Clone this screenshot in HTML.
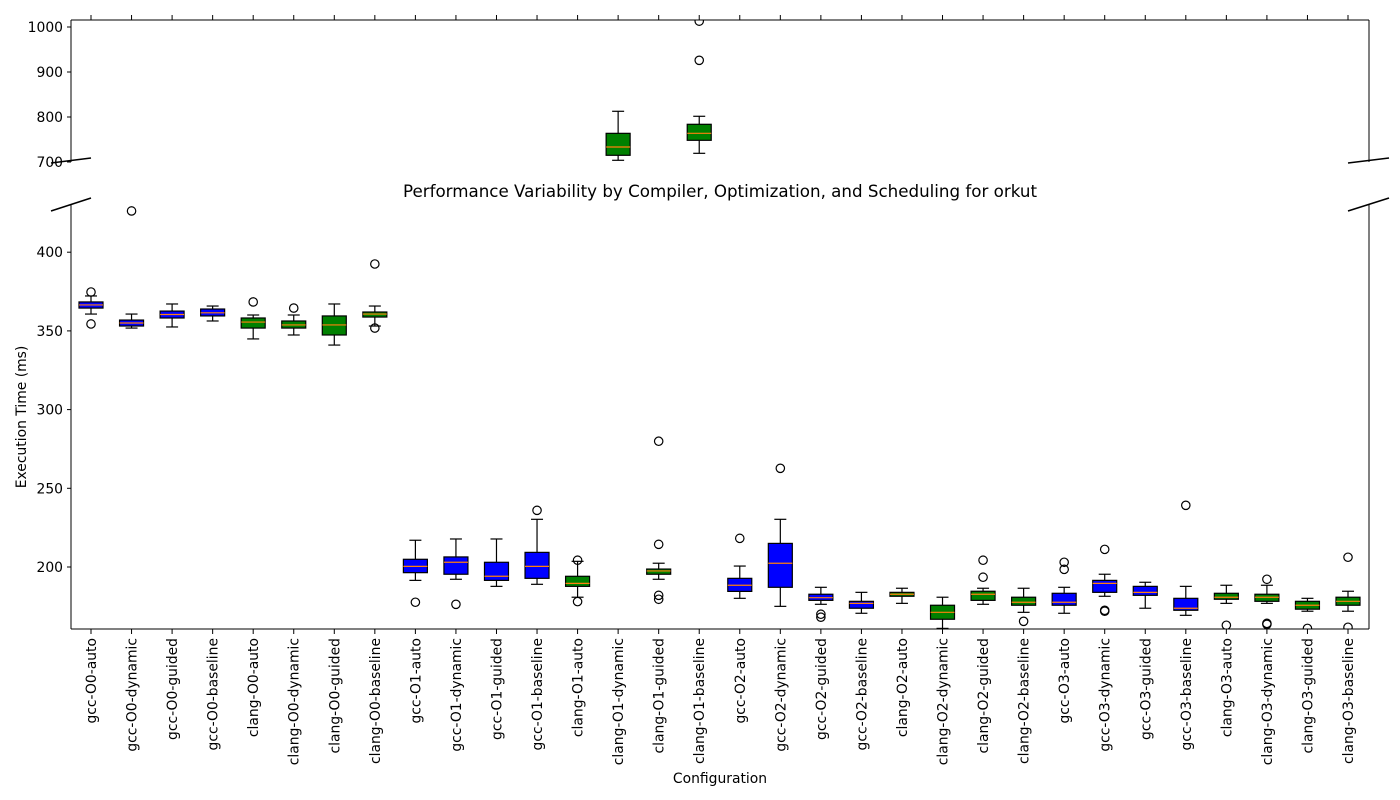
<!DOCTYPE html>
<html><head><meta charset="utf-8">
<style>
html,body{margin:0;padding:0;background:#fff;}
svg{display:block;font-family:"DejaVu Sans","Liberation Sans",sans-serif;}
</style></head>
<body>
<svg id="chart" width="1400" height="800" viewBox="0 0 1400 800" xmlns="http://www.w3.org/2000/svg">
<defs>
<clipPath id="clipTop"><rect x="71" y="20" width="1298" height="142"/></clipPath>
<clipPath id="clipBot"><rect x="71" y="204" width="1298" height="425"/></clipPath>
</defs>
<text x="720" y="197" text-anchor="middle" font-size="16.7">Performance Variability by Compiler, Optimization, and Scheduling for orkut</text>
<text transform="translate(26,417) rotate(-90)" text-anchor="middle" font-size="13.9">Execution Time (ms)</text>
<text x="720" y="783" text-anchor="middle" font-size="13.9">Configuration</text>
<g id="gTop"></g>
<g id="gBot"></g>
</svg>
<script>
const categories = ["gcc-O0-auto","gcc-O0-dynamic","gcc-O0-guided","gcc-O0-baseline","clang-O0-auto","clang-O0-dynamic","clang-O0-guided","clang-O0-baseline","gcc-O1-auto","gcc-O1-dynamic","gcc-O1-guided","gcc-O1-baseline","clang-O1-auto","clang-O1-dynamic","clang-O1-guided","clang-O1-baseline","gcc-O2-auto","gcc-O2-dynamic","gcc-O2-guided","gcc-O2-baseline","clang-O2-auto","clang-O2-dynamic","clang-O2-guided","clang-O2-baseline","gcc-O3-auto","gcc-O3-dynamic","gcc-O3-guided","gcc-O3-baseline","clang-O3-auto","clang-O3-dynamic","clang-O3-guided","clang-O3-baseline"];
const whiskerLow = [360.7,351.8,352.5,356.3,344.9,347.4,341,353.1,191.5,192.2,187.7,189,180.8,703.8,192.2,719.3,180.1,175,176.3,170.6,176.9,161,176.3,171.2,170.6,181.4,173.8,169.3,176.9,176.9,171.9,171.9];
const q1Values = [364.5,353.1,358.2,359.5,351.8,351.8,347.4,358.8,196.4,195.4,191.5,192.8,187.7,714.9,195.4,748.2,184.5,187.1,178.8,173.8,181.4,166.8,178.8,175.7,175.7,183.9,182,172.5,179.5,178.2,173.2,175.7];
const medians = [366.5,355,360.4,361.5,355.6,353.8,353.8,360.7,200.4,203,194.1,200.4,189.6,733.3,197.5,763.7,188.4,202.4,180.5,176.9,182.7,171.2,182.7,177.6,177.6,189.6,183.9,173.8,180.8,180.8,175.7,178.2];
const q3Values = [368.4,356.9,362.6,363.9,358.2,356.3,359.5,362,204.9,206.4,203,209.3,194.1,763.7,198.7,783.8,192.8,215,182.7,178.2,183.9,175.7,184.6,180.8,183.3,191.5,187.7,180.1,183.3,182.7,178.2,180.8];
const whiskerHigh = [372.2,360.7,367.1,365.8,360.1,360.1,367.1,365.8,217,217.8,217.8,230.3,203.6,812.7,202.4,801.6,200.6,230.3,187.1,183.9,186.5,180.8,186.5,186.5,187.1,195.4,190.3,187.7,188.4,188.4,180.1,184.6];
const outliers = [[374.7,354.4],[426.2],[],[],[368.4],[364.5],[],[392.5,351.8],[177.6],[176.3],[],[236],[204.3,178],[],[279.9,214.4,182,179.5],[926,1013],[218.2],[262.7],[170,168.1],[],[],[],[204.3,193.5],[165.5],[203,198.5],[211.2,172.5,171.9],[],[239.2],[163],[192.2,164.2,163.6],[161],[206.2,161.7]];
const topTicks = [700,800,900,1000];
const botTicks = [200,250,300,350,400];

const NS="http://www.w3.org/2000/svg";
const svg=document.getElementById('chart');
const gTop=document.getElementById('gTop');
const gBot=document.getElementById('gBot');
const X0=71,X1=1369;
const FS=13.9;
const xPos=i=>91+i*(1348-91)/(categories.length-1);
const yTop=v=>162-(v-700)*0.45;
const yBot=v=>567-(v-200)*1.574;
function el(tag,attrs,parent){const e=document.createElementNS(NS,tag);for(const k in attrs)e.setAttribute(k,attrs[k]);parent.appendChild(e);return e;}

let s;
s=el('line',{x1:X0,y1:20,x2:X1,y2:20,stroke:'#000','stroke-width':1},gTop);


s=el('line',{x1:X0,y1:20,x2:X0,y2:162,stroke:'#000','stroke-width':1},gTop);


s=el('line',{x1:X1,y1:20,x2:X1,y2:162,stroke:'#000','stroke-width':1},gTop);


s=el('line',{x1:X0,y1:205,x2:X0,y2:629,stroke:'#000','stroke-width':1},gBot);


s=el('line',{x1:X1,y1:205,x2:X1,y2:629,stroke:'#000','stroke-width':1},gBot);


s=el('line',{x1:X0,y1:629,x2:X1,y2:629,stroke:'#000','stroke-width':1},gBot);


[[51,163,91,158],[1348,163,1389,158],[51,211,91,198],[1348,211,1389,198]].forEach(b=>{
  const m=el('line',{x1:b[0],y1:b[1],x2:b[2],y2:b[3],stroke:'#000','stroke-width':1.5},svg);
  
  
});
topTicks.forEach(v=>{
  const y=yTop(v);
  el('line',{x1:X0-4,y1:y,x2:X0,y2:y,stroke:'#000'},gTop);
  const t=el('text',{x:X0-8,y:y+5,'text-anchor':'end','font-size':FS},gTop);
  t.textContent=v;
  
  
});
botTicks.forEach(v=>{
  const y=yBot(v);
  el('line',{x1:X0-4,y1:y,x2:X0,y2:y,stroke:'#000'},gBot);
  const t=el('text',{x:X0-8,y:y+5,'text-anchor':'end','font-size':FS},gBot);
  t.textContent=v;
  
  
});
const cTop=el('g',{'clip-path':'url(#clipTop)'},gTop);
const cBot=el('g',{'clip-path':'url(#clipBot)'},gBot);
categories.forEach((c,i)=>{
  const x=xPos(i);
  el('line',{x1:x,y1:20,x2:x,y2:15,stroke:'#000'},gTop);
  el('line',{x1:x,y1:629,x2:x,y2:634,stroke:'#000'},gBot);
  const t=el('text',{transform:`translate(${x+5},638) rotate(-90)`,'text-anchor':'end','font-size':FS},gBot);
  t.textContent=c;
  
  
  const fill=c.startsWith('gcc')?'#0000ff':'#008000';
  [[cTop,yTop],[cBot,yBot]].forEach(([g,ys])=>{
    const grp=el('g',{},g);
    
    
    const w=12;
    el('line',{x1:x,y1:ys(whiskerLow[i]),x2:x,y2:ys(q1Values[i]),stroke:'#000','stroke-width':1.2},grp);
    el('line',{x1:x,y1:ys(q3Values[i]),x2:x,y2:ys(whiskerHigh[i]),stroke:'#000','stroke-width':1.2},grp);
    el('line',{x1:x-6,y1:ys(whiskerLow[i]),x2:x+6,y2:ys(whiskerLow[i]),stroke:'#000','stroke-width':1.2},grp);
    el('line',{x1:x-6,y1:ys(whiskerHigh[i]),x2:x+6,y2:ys(whiskerHigh[i]),stroke:'#000','stroke-width':1.2},grp);
    const yq3=ys(q3Values[i]),yq1=ys(q1Values[i]);
    el('rect',{x:x-w,y:yq3,width:2*w,height:Math.max(yq1-yq3,0.5),fill:fill,stroke:'#000','stroke-width':1.2},grp);
    el('line',{x1:x-w,y1:ys(medians[i]),x2:x+w,y2:ys(medians[i]),stroke:'#ff7f0e','stroke-width':1.2},grp);
    outliers[i].forEach(o=>{
      const p=el('circle',{cx:x,cy:ys(o),r:4.2,fill:'none',stroke:'#000','stroke-width':1.2},grp);
      
      
    });
  });
});
</script>
</body></html>
